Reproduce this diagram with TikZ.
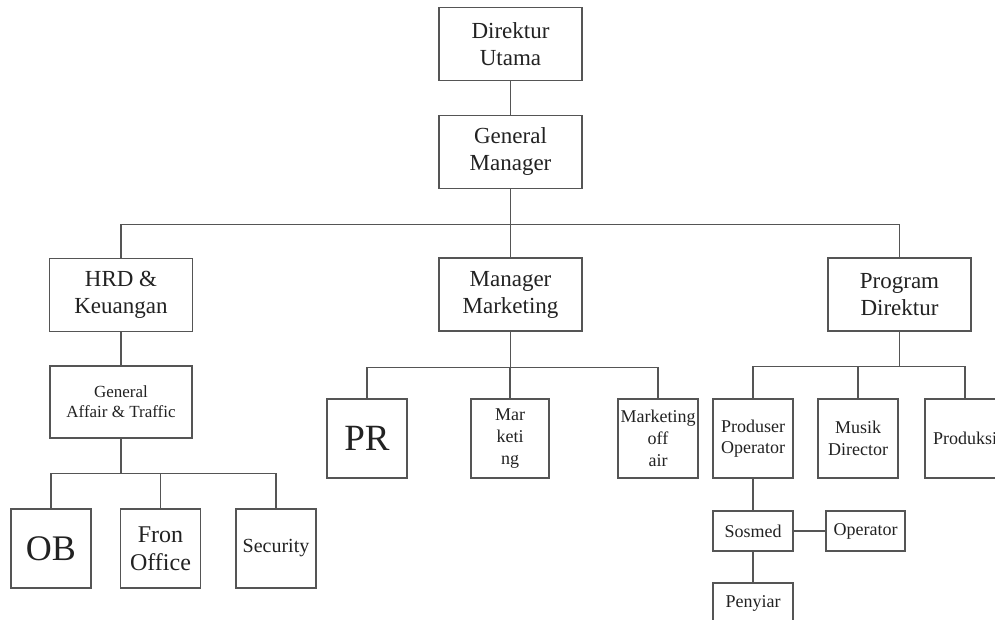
\documentclass[tikz,border=0pt]{standalone}
\usepackage{fontspec}
\setmainfont{Liberation Serif}
\usetikzlibrary{calc}

\definecolor{linegray}{HTML}{555555}
\definecolor{textgray}{HTML}{222222}

\tikzset{
  unit/.style={draw=linegray, line width=1.4pt, text=textgray, align=center, inner sep=0pt},
  bigunit/.style={unit, minimum width=143pt, minimum height=73pt, font=\fontsize{23}{27}\selectfont},
  smallunit/.style={unit, minimum width=80pt, minimum height=79pt, font=\fontsize{18}{21.5}\selectfont},
  tinyunit/.style={unit, minimum width=80pt, minimum height=40pt, font=\fontsize{18}{21}\selectfont},
  link/.style={draw=linegray, line width=1.2pt}
}

\begin{document}
\begin{tikzpicture}[x=1pt, y=-1pt]
    \clip (0,0) rectangle (995,620);
    \fill[white] (0,0) rectangle (995,620);

    % top of the chart
    \node[bigunit] (dir) at (510.5,44) {Direktur\\Utama};
    \node[bigunit] (gm) at (510.5,152) {General\\Manager};
    \node[bigunit] (hrd) at (121,295) {HRD \&\\Keuangan};
    \node[bigunit] (mm) at (510.5,294.5) {Manager\\Marketing};
    \node[bigunit] (prog) at (899.5,294.5) {Program\\Direktur};

    % HRD side
    \node[unit, minimum width=142pt, minimum height=72pt, font=\fontsize{17}{20}\selectfont] (ga) at (121,402) {General\\Affair \& Traffic};
    \node[smallunit, font=\fontsize{36}{40}\selectfont] (ob) at (51,548.5) {OB};
    \node[smallunit, font=\fontsize{24}{28}\selectfont] (fo) at (160.5,548.5) {Fron\\Office};
    \node[smallunit, font=\fontsize{20}{24}\selectfont] (sec) at (276,548.5) {Security};

    % marketing side
    \node[smallunit, font=\fontsize{37}{40}\selectfont] (pr) at (367,438.5) {PR};
    \node[smallunit, minimum width=78pt, font=\fontsize{18}{22}\selectfont] (mk) at (510,438.5) {Mar\\keti\\ng};
    \node[smallunit, font=\fontsize{18}{22}\selectfont] (moa) at (658,438.5) {Marketing\\off\\air};

    % program side
    \node[smallunit] (po) at (753,438.5) {Produser\\Operator};
    \node[smallunit] (md) at (858,438.5) {Musik\\Director};
    \node[smallunit] (prod) at (965,438.5) {Produksi};
    \node[tinyunit] (sos) at (753,531) {Sosmed};
    \node[tinyunit, minimum width=79pt] (op) at (865.5,531) {Operator};
    \node[tinyunit] (pen) at (753,603) {Penyiar};

    % connectors
    \draw[link] (dir) -- (gm);
    \draw[link] (gm) -- (mm);
    \foreach \kid in {hrd,prog}{
      \draw[link] (gm.south) -- ++(0,35) -| (\kid.north);
    }
    \draw[link] (hrd) -- (ga);
    \foreach \kid in {ob,fo,sec}{
      \draw[link] (ga.south) -- ++(0,35) -| (\kid.north);
    }
    \foreach \kid in {pr,mk,moa}{
      \draw[link] (mm.south) -- ++(0,36) -| (\kid.north);
    }
    \foreach \kid in {po,md,prod}{
      \draw[link] (prog.south) -- ++(0,35) -| (\kid.north);
    }
    \draw[link] (po) -- (sos);
    \draw[link] (sos) -- (op);
    \draw[link] (sos) -- (pen);
  \end{tikzpicture}
\end{document}
